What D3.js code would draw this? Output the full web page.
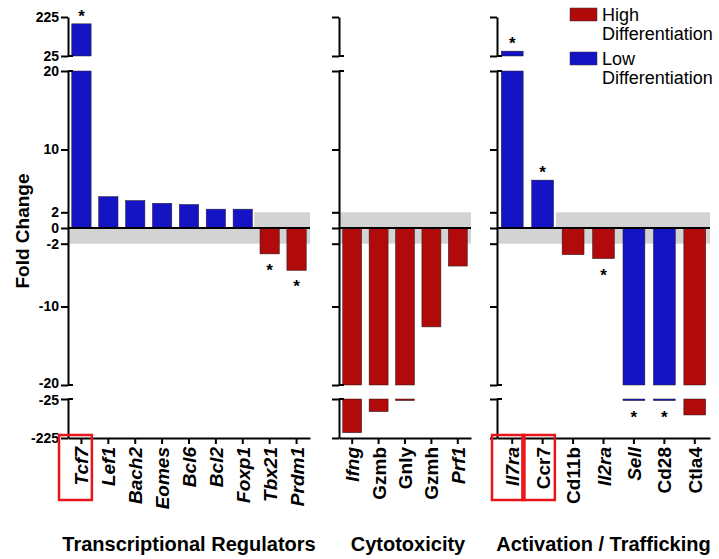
<!DOCTYPE html>
<html>
<head>
<meta charset="utf-8">
<script src="https://cdn.jsdelivr.net/npm/d3@7"></script>
<style>
  body { margin: 0; background: #fff; }
  svg text { font-family: "Liberation Sans", Arial, sans-serif; }
</style>
</head>
<body>
<svg id="chart" width="719" height="559"></svg>
<script>
// --- data (fold change) ---
const regulatorGenes = ['Tcf7', 'Lef1', 'Bach2', 'Eomes', 'Bcl6', 'Bcl2', 'Foxp1', 'Tbx21', 'Prdm1'];
const regulatorFC = [190, 4.0, 3.5, 3.15, 3.0, 2.4, 2.4, -3.3, -5.4];
const regulatorSig = ['Tcf7', 'Tbx21', 'Prdm1'];

const cytoGenes = ['Ifng', 'Gzmb', 'Gnly', 'Gzmh', 'Prf1'];
const cytoFC = [-198, -90, -27, -12.6, -4.85];
const cytoSig = [];

const activGenes = ['Il7ra', 'Ccr7', 'Cd11b', 'Il2ra', 'Sell', 'Cd28', 'Ctla4'];
const activFC = [50, 6.1, -3.4, -3.9, -30, -30, -107];
const activSig = ['Il7ra', 'Ccr7', 'Il2ra', 'Sell', 'Cd28'];

// genes associated with low differentiation (blue); all others high (red)
const lowDiffGenes = ['Tcf7', 'Lef1', 'Bach2', 'Eomes', 'Bcl6', 'Bcl2', 'Foxp1', 'Il7ra', 'Ccr7', 'Sell', 'Cd28'];
const uprightGenes = ['Gzmb', 'Gnly', 'Gzmh', 'Ccr7', 'Cd11b', 'Cd28', 'Ctla4'];
const highlightGenes = ['Tcf7', 'Il7ra', 'Ccr7'];
const groupTitles = ['Transcriptional Regulators', 'Cytotoxicity', 'Activation / Trafficking'];
const legendLabels = [['High', 'Differentiation'], ['Low', 'Differentiation']];

const midTicks = [20, 10, 2, 0, -2, -10, -20];
const topTicks = [225, 25];
const botTicks = [-25, -225];

const RED = '#b00a0a', BLUE = '#1414c4', GREY = '#d3d3d3';

const svg = d3.select('#chart');

// broken y axis: three stacked linear segments
const yTop = d3.scaleLinear().domain([25, 225]).range([56, 17]);
const yMid = d3.scaleLinear().domain([-20, 20]).range([385, 71]);
const yBot = d3.scaleLinear().domain([-225, -25]).range([438, 399]);
const xAxisY = yBot(-225);

const panels = [
  {genes: regulatorGenes, values: regulatorFC, sig: regulatorSig, x0: 68, x1: 310, labelled: true},
  {genes: cytoGenes, values: cytoFC, sig: cytoSig, x0: 339, x1: 471, labelled: false},
  {genes: activGenes, values: activFC, sig: activSig, x0: 497, x1: 710, labelled: false},
];

// vertical pieces of one bar across the segments
function pieces(v) {
  const out = [];
  const m = Math.max(-20, Math.min(20, v));
  out.push([yMid(Math.max(0, m)), yMid(Math.min(0, m))]);
  if (v > 25) out.push([yTop(v), yTop(25)]);
  if (v < -25) {
    const b = yBot(v);
    out.push([yBot(-25), Math.max(b, yBot(-25) + 1.6)]);
  }
  return out;
}
function barEnd(v) {
  if (v > 25) return yTop(v);
  if (v < -25) return Math.max(yBot(v), yBot(-25) + 1.6);
  return yMid(v);
}

panels.forEach((p, pi) => {
  const x = d3.scaleBand().domain(p.genes).range([p.x0, p.x1]).paddingInner(0.28).paddingOuter(0.14);
  const step = x.step();
  const edge = g => x(g) - (step - x.bandwidth()) / 2;
  const rows = p.genes.map((g, i) => ({gene: g, v: p.values[i]}));
  const g = svg.append('g');

  // grey +/-2 band (upper half only where bars go down)
  const firstNeg = rows.find(d => d.v < 0);
  g.append('rect').attr('x', p.x0).attr('width', p.x1 - p.x0)
    .attr('y', yMid(0)).attr('height', yMid(-2) - yMid(0)).attr('fill', GREY);
  if (firstNeg) {
    const ux = Math.max(p.x0, edge(firstNeg.gene) - 2);
    g.append('rect').attr('x', ux).attr('width', p.x1 - ux)
      .attr('y', yMid(2)).attr('height', yMid(0) - yMid(2)).attr('fill', GREY);
  }

  // bars
  const segs = rows.flatMap(d => pieces(d.v).map(s => ({d, s})));
  g.append('g').selectAll('rect').data(segs).join('rect')
    .attr('x', e => x(e.d.gene))
    .attr('width', x.bandwidth())
    .attr('y', e => e.s[0])
    .attr('height', e => Math.max(0, e.s[1] - e.s[0]))
    .attr('fill', e => lowDiffGenes.includes(e.d.gene) ? BLUE : RED)
    .attr('stroke', '#222').attr('stroke-width', 0.5);

  // significance stars
  g.append('g').selectAll('text').data(rows.filter(d => p.sig.includes(d.gene))).join('text')
    .attr('x', d => x(d.gene) + x.bandwidth() / 2)
    .attr('y', d => d.v > 0 ? barEnd(d.v) - 2 : barEnd(d.v) + 22)
    .attr('text-anchor', 'middle')
    .attr('font-size', 17).attr('font-weight', 'bold')
    .text('*');

  // zero line
  g.append('line').attr('x1', p.x0).attr('x2', p.x1)
    .attr('y1', yMid(0)).attr('y2', yMid(0))
    .attr('stroke', '#000').attr('stroke-width', 2);

  // y axes (three pieces)
  const fmt = p.labelled ? d => String(d) : () => '';
  [[yMid, midTicks], [yTop, topTicks], [yBot, botTicks]].forEach(([sc, tv]) => {
    const ax = g.append('g').attr('transform', `translate(${p.x0},0)`)
      .call(d3.axisLeft(sc).tickValues(tv).tickSize(7).tickSizeOuter(0).tickFormat(fmt));
    ax.select('.domain').attr('stroke-width', 2);
    ax.selectAll('.tick line').attr('stroke-width', 2);
    ax.selectAll('.tick text').attr('font-size', 14).attr('font-weight', 'bold').attr('x', -9)
      .attr('transform', d => d === -20 ? 'translate(0,-1.5)' : d === -25 ? 'translate(0,1.5)' : null);
  });
  // caps at the breaks
  [yTop(25), yMid(20), yMid(-20), yBot(-25)].forEach(yy => {
    g.append('line').attr('x1', p.x0).attr('x2', p.x0 + 5).attr('y1', yy).attr('y2', yy)
      .attr('stroke', '#000').attr('stroke-width', 2);
  });

  // x axis
  const xa = g.append('g').attr('transform', `translate(0,${xAxisY})`)
    .call(d3.axisBottom(x).tickSize(6).tickSizeOuter(0));
  xa.select('.domain').attr('stroke-width', 2);
  xa.selectAll('.tick line').attr('stroke-width', 2);
  xa.selectAll('.tick text')
    .attr('transform', 'rotate(-90)')
    .attr('text-anchor', 'end')
    .attr('dy', 0).attr('x', -9).attr('y', 7)
    .attr('font-size', 19).attr('font-weight', 'bold')
    .attr('font-style', d => uprightGenes.includes(d) ? 'normal' : 'italic');

  // highlight boxes
  p.genes.filter(gn => highlightGenes.includes(gn)).forEach(gn => {
    const bx = gn === p.genes[0] && pi === 0 ? edge(gn) - 9 : edge(gn) - 5;
    g.append('rect').attr('x', bx).attr('y', 435)
      .attr('width', edge(gn) + step - 3 - bx).attr('height', 65)
      .attr('fill', 'none').attr('stroke', '#e8141a').attr('stroke-width', 2.5);
  });

  // group title
  svg.append('text').attr('x', (p.x0 + p.x1) / 2 + (pi === 1 ? 3 : 0))
    .attr('y', 551).attr('text-anchor', 'middle')
    .attr('font-size', 20).attr('font-weight', 'bold')
    .text(groupTitles[pi]);
});

// y title
svg.append('text')
  .attr('transform', `translate(29,${yMid(0) + 3}) rotate(-90)`)
  .attr('text-anchor', 'middle')
  .attr('font-size', 19).attr('font-weight', 'bold')
  .text('Fold Change');

// legend
const legend = svg.append('g').attr('transform', 'translate(570,8)');
[RED, BLUE].forEach((c, i) => {
  const lg = legend.append('g').attr('transform', `translate(0,${i * 44})`);
  lg.append('rect').attr('width', 27).attr('height', 13).attr('fill', c)
    .attr('stroke', '#333').attr('stroke-width', 0.5);
  lg.selectAll('text').data(legendLabels[i]).join('text')
    .attr('x', 32).attr('y', (d, j) => 13 + j * 19)
    .attr('font-size', 18)
    .text(d => d);
});
</script>
</body>
</html>
